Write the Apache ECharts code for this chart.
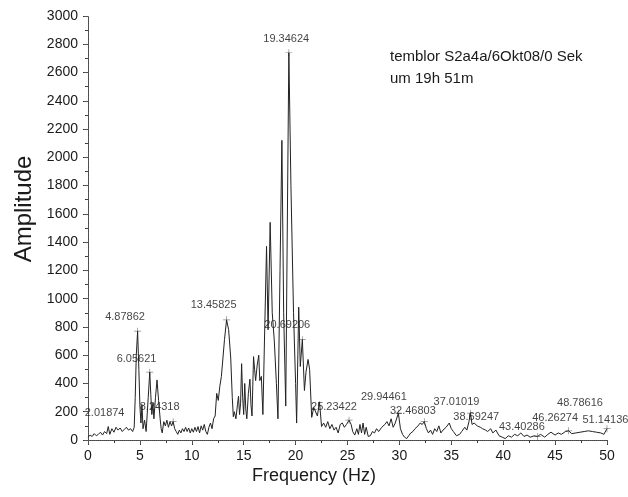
<!DOCTYPE html>
<html><head><meta charset="utf-8">
<script src="https://cdn.jsdelivr.net/npm/echarts@6/dist/echarts.min.js"></script>
<style>html,body{margin:0;padding:0;background:#fff}#c{width:628px;height:497px}</style>
</head><body><div id="c"></div>
<script>
// Spectrum samples (Hz, amplitude)
const freq = [0.0,0.2,0.4,0.6,0.8,1.0,1.2,1.4,1.6,1.8,1.95,2.1,2.3,2.5,2.7,2.9,3.1,3.3,3.5,3.7,3.9,4.1,4.3,4.45,
4.55,4.65,4.78,4.9,5.0,5.1,5.2,5.3,5.45,5.6,5.8,5.95,6.05,6.15,6.25,6.35,6.5,6.65,6.8,6.95,7.05,7.15,7.3,7.45,7.6,7.75,7.9,8.05,8.2,8.35,8.5,8.65,8.8,8.95,9.1,9.25,9.4,9.55,9.7,9.85,10.0,10.15,10.3,10.45,10.6,10.75,10.9,11.05,11.2,11.35,11.5,11.65,11.8,11.95,12.1,12.25,12.4,12.55,12.7,12.85,13.0,13.15,13.35,13.55,13.75,13.9,14.0,14.1,14.25,14.4,14.5,14.6,14.7,14.8,14.9,15.0,15.1,15.2,15.3,15.45,15.6,15.7,15.8,15.95,16.05,16.15,16.3,16.45,16.55,16.7,16.85,17.0,17.2,17.35,17.55,17.75,17.95,18.15,18.3,18.5,18.68,18.85,19.05,19.2,19.35,19.55,19.8,20.0,20.1,20.3,20.45,20.65,20.85,21.0,21.2,21.35,21.55,21.75,21.9,22.1,22.3,22.5,22.7,22.9,23.1,23.3,23.5,23.7,23.9,24.1,24.3,24.5,24.7,24.9,25.15,25.35,25.5,25.7,25.9,26.05,26.2,26.35,26.5,26.65,26.8,27.0,27.2,27.4,27.6,27.8,28.0,28.3,28.6,28.8,29.0,29.2,29.4,29.6,29.9,30.1,30.3,30.5,30.7,30.9,31.1,31.3,31.5,31.8,32.0,32.2,32.4,32.6,32.8,33.0,33.2,33.4,33.6,33.8,34.0,34.2,34.5,34.8,35.0,35.2,35.5,35.8,36.0,36.3,36.5,36.7,36.85,37.0,37.2,37.5,37.8,38.0,38.3,38.5,38.8,39.0,39.3,39.6,39.9,40.2,40.5,40.8,41.1,41.4,41.7,42.0,42.3,42.6,43.0,43.3,43.6,44.0,44.3,44.6,45.0,45.3,45.6,46.0,46.3,46.6,47.0,47.4,47.8,48.2,48.6,49.0,49.4,49.7,50.0];
const amp = [20,35,25,45,30,40,55,35,60,45,95,40,80,55,90,70,85,60,75,90,70,80,60,90,
300,600,770,500,240,120,250,80,140,60,300,480,320,180,260,150,300,425,280,150,80,50,130,100,140,90,130,100,130,80,60,40,70,50,80,60,90,60,85,50,80,55,90,60,95,50,100,70,110,60,40,90,120,80,150,170,330,280,380,450,580,710,850,780,580,300,165,200,150,250,310,180,260,540,300,180,400,220,150,330,430,250,170,590,500,420,530,600,420,450,180,700,1370,780,1540,900,700,400,150,1200,2120,900,240,1500,2740,1800,900,400,120,940,520,710,350,480,570,500,160,230,240,170,270,95,120,90,130,80,110,70,90,50,110,120,90,110,140,110,60,35,80,40,110,50,120,40,90,25,30,60,50,80,60,90,110,130,100,150,90,120,190,80,40,20,10,30,50,60,80,100,120,110,130,80,50,70,40,80,60,100,50,70,90,120,80,60,30,40,60,90,70,130,190,110,120,100,90,80,70,60,80,50,70,30,20,10,30,20,40,30,50,25,35,20,30,25,40,20,40,55,35,50,40,60,65,45,50,55,60,65,60,55,50,40,80];

// Marked peaks (crosses)
const peakFreq = [4.78, 5.95, 8.2, 13.35, 19.35, 20.65, 25.15, 29.9, 32.4, 36.85, 43.3, 46.3, 50.0];
const peakAmp  = [770, 480, 130, 850, 2740, 710, 140, 190, 130, 190, 25, 65, 80];

// Peak annotation texts and their anchors (data units)
const labelText = ["2.01874","4.87862","6.05621","8.24318","13.45825","19.34624","20.69206","25.23422","29.94461","32.46803","37.01019","38.69247","43.40286","46.26274","48.78616","51.14136"];
const labelFreq = [1.6, 3.57, 4.68, 6.9, 12.1, 19.1, 19.2, 23.7, 28.5, 31.3, 35.5, 37.4, 41.8, 45.0, 47.4, 49.85];
const labelAmp  = [191, 870, 573, 234, 955, 2838, 814, 234, 304, 205, 269, 163, 92, 156, 262, 142];

const xTicks = [0,5,10,15,20,25,30,35,40,45,50];
const yTicks = [0,200,400,600,800,1000,1200,1400,1600,1800,2000,2200,2400,2600,2800,3000];

const chart = echarts.init(document.getElementById('c'), null, {renderer:'canvas'});
const FONT = '"Liberation Sans", Arial, sans-serif';
const axisLine = {show:true, lineStyle:{color:'#444', width:1, type:[1,1]}};
const option = {
  animation:false,
  backgroundColor:'#fff',
  grid:{left:88, right:21, top:16, bottom:57},
  title:{text:'temblor S2a4a/6Okt08/0 Sek\num 19h 51m', left:385, top:41,
    textStyle:{fontFamily:FONT, fontSize:15, fontWeight:'normal', color:'#1a1a1a', lineHeight:22}},
  xAxis:[{type:'value', min:xTicks[0], max:xTicks[xTicks.length-1], interval:5,
    axisLine:axisLine, axisTick:{show:true, inside:false, length:5, lineStyle:{color:'#333'}},
    minorTick:{show:true, splitNumber:2, length:3, lineStyle:{color:'#333'}},
    splitLine:{show:false},
    axisLabel:{fontFamily:FONT, fontSize:14, color:'#1a1a1a', margin:9, formatter:v=>String(v)}},
   {type:'value', position:'top', min:0, max:50, interval:5,
    axisLine:axisLine, axisTick:{show:true, inside:true, length:4, lineStyle:{color:'#555'}},
    minorTick:{show:true, splitNumber:2, length:2}, axisLabel:{show:false}, splitLine:{show:false}}],
  yAxis:[{type:'value', min:yTicks[0], max:yTicks[yTicks.length-1], interval:200,
    axisLine:axisLine, axisTick:{show:true, inside:false, length:5, lineStyle:{color:'#333'}},
    minorTick:{show:true, splitNumber:2, length:3, lineStyle:{color:'#333'}},
    splitLine:{show:false},
    axisLabel:{fontFamily:FONT, fontSize:14, color:'#1a1a1a', margin:10, formatter:v=>String(v)}},
   {type:'value', position:'right', min:0, max:3000, interval:200,
    axisLine:axisLine, axisTick:{show:true, inside:true, length:4, lineStyle:{color:'#555'}},
    minorTick:{show:true, splitNumber:2, length:2}, axisLabel:{show:false}, splitLine:{show:false}}],
  graphic:[
    {type:'text', left:'center', top:467, style:{text:'Frequency (Hz)', font:'18px '+FONT, fill:'#1a1a1a'}},
    {type:'text', x:24, y:209, rotation:Math.PI/2, style:{text:'Amplitude', font:'24px '+FONT, fill:'#1a1a1a', align:'center', verticalAlign:'middle'}}
  ],
  series:[
    {type:'line', xAxisIndex:0, yAxisIndex:0, data:freq.map((f,i)=>[f,amp[i]]), showSymbol:false,
     lineStyle:{color:'#222', width:1}, silent:true},
    {type:'scatter', data:peakFreq.map((f,i)=>[f,peakAmp[i]]),
     symbol:'path://M0,4.5H10V5.5H0Z M4.5,0H5.5V10H4.5Z', symbolSize:7, itemStyle:{color:'#666'}, silent:true},
    {type:'scatter', data:labelFreq.map((f,i)=>({value:[f,labelAmp[i]], name:labelText[i]})),
     symbolSize:0, silent:true,
     label:{show:true, position:'inside', formatter:p=>p.name,
       fontFamily:'"Liberation Sans Narrow", "Arial Narrow", '+FONT, fontSize:11, color:'#111'}}
  ]
};
chart.setOption(option);
</script></body></html>
